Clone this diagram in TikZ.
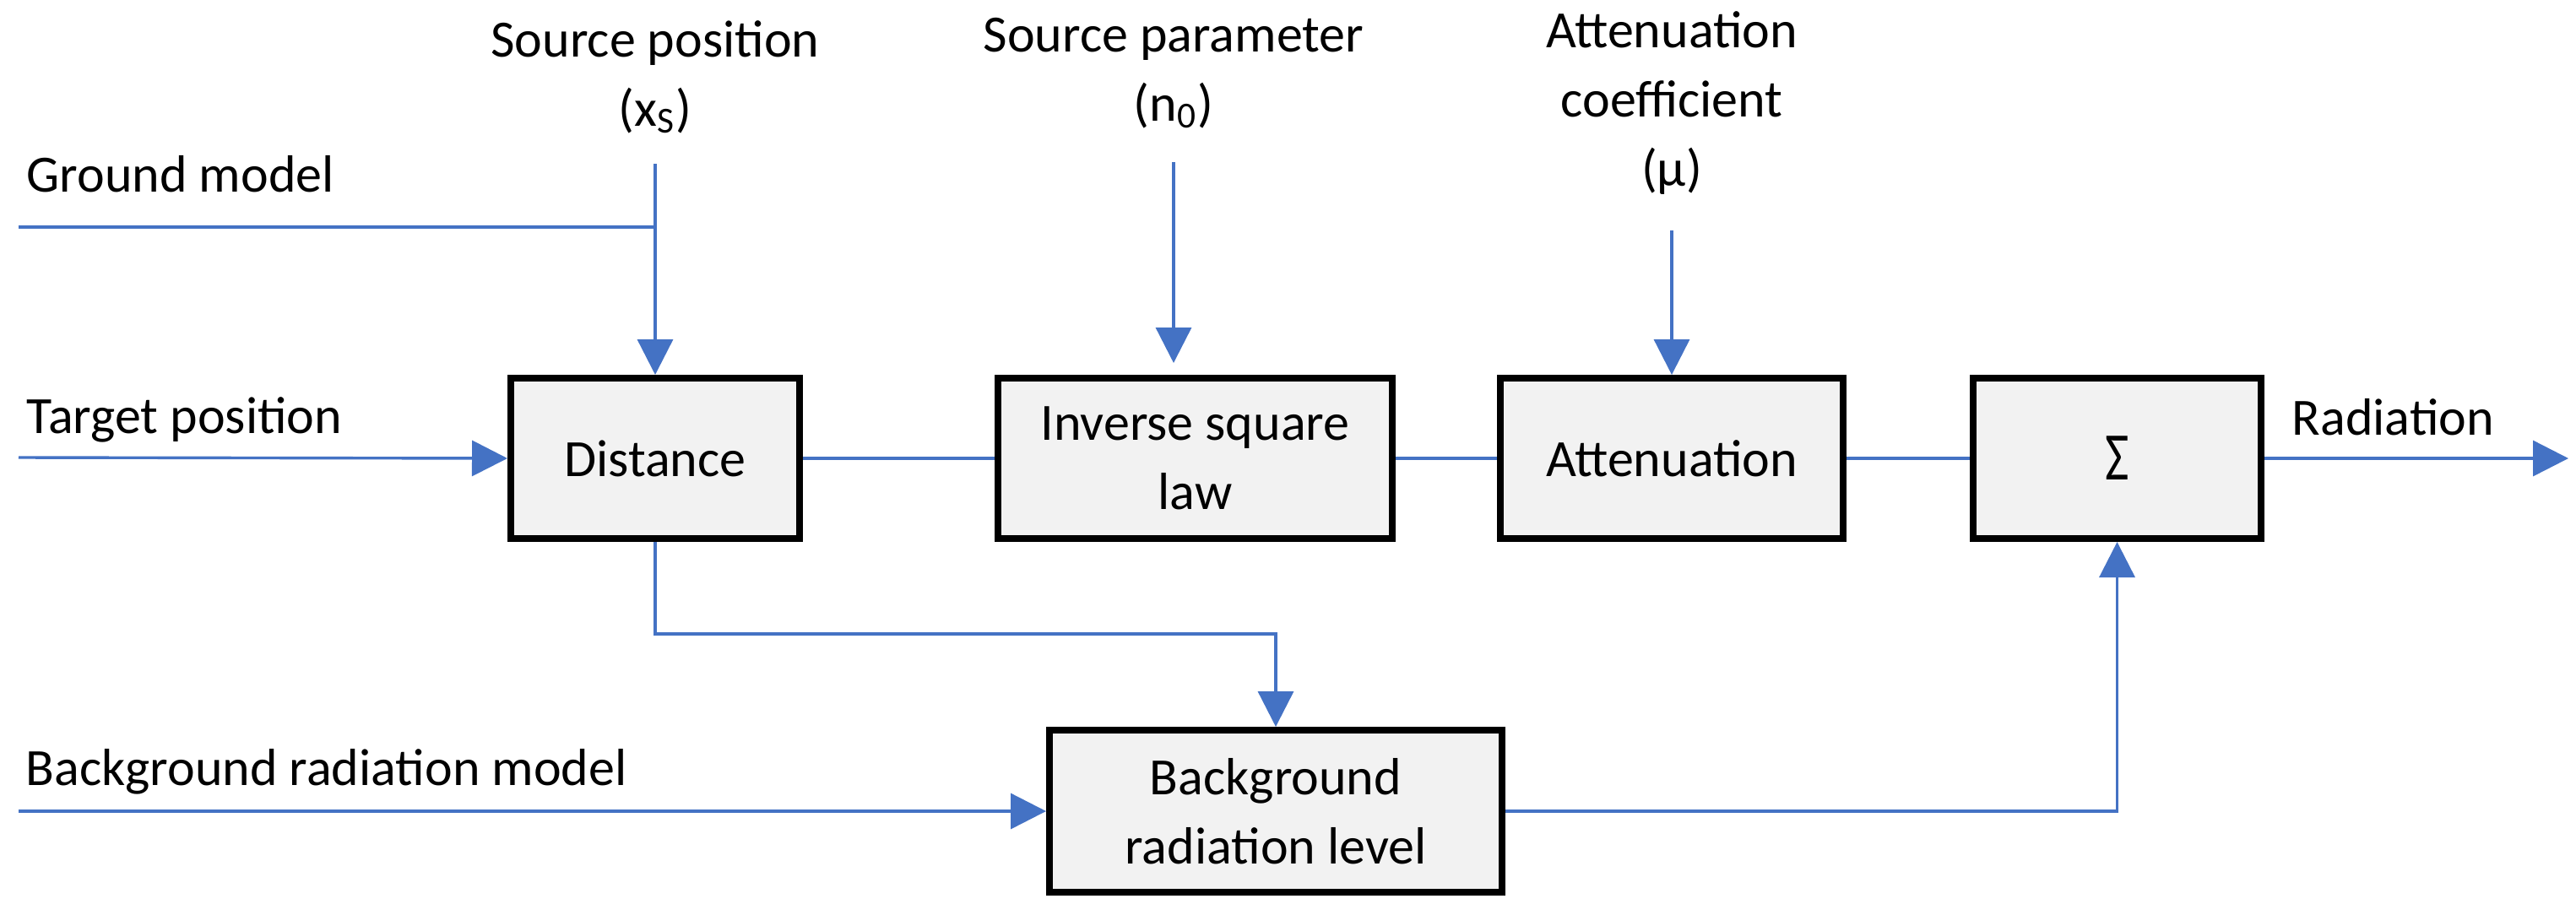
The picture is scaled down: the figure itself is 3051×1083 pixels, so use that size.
\documentclass[tikz,border=0pt]{standalone}
\usepackage{fontspec}
\setmainfont{Carlito}
\usetikzlibrary{arrows.meta}
\definecolor{lineblue}{HTML}{4472C4}
\definecolor{boxfill}{HTML}{F2F2F2}
\newcommand\lblfont{\fontsize{15.5pt}{20.5pt}\selectfont}
\begin{document}
\begin{tikzpicture}[x=0.25pt,y=-0.25pt,
  blk/.style={draw=black, line width=2pt, fill=boxfill, inner sep=0pt, align=center, font=\lblfont, minimum height=47.5pt},
  wire/.style={draw=lineblue, line width=0.85pt},
  arr/.style={wire, -{Triangle[length=10.5pt,width=10.5pt]}},
  lbl/.style={inner sep=0pt, font=\lblfont, align=center}
]
\useasboundingbox (0,0) rectangle (3051,1083);

% blocks
\node[blk, minimum width=85.5pt] (dist) at (776,543) {Distance};
\node[blk, minimum width=116.75pt] (inv) at (1415.5,543) {Inverse square\\law};
\node[blk, minimum width=101.5pt] (att) at (1980,543) {Attenuation};
\node[blk, minimum width=85.25pt] (sum) at (2507.5,543) {\raisebox{-1pt}{\scalebox{1}[1.3]{Σ}}};
\node[blk, minimum width=134pt, minimum height=48pt] (bg) at (1511,961) {Background\\radiation level};

% labels (anchor = baseline of last line)
\node[lbl, anchor=base] (srcpos) at (776,149) {Source position\\(x\textsubscript{S})};
\node[lbl, anchor=base] (srcpar) at (1390,143) {Source parameter\\(n\textsubscript{0})};
\node[lbl, anchor=base] (attco) at (1980,220) {Attenuation\\coefficient\\(μ)};
\node[lbl, anchor=base west] (gm) at (31,227) {Ground model};
\node[lbl, anchor=base west] (tp) at (31,513) {Target position};
\node[lbl, anchor=base west] (brm) at (30,930) {Background radiation model};
\node[lbl, anchor=base west] (radl) at (2714,515) {Radiation};

% connector end points
\coordinate (gm0) at (22,269);
\coordinate (gm1) at (776,269);
\coordinate (sp0) at (776,194);
\coordinate (tp0) at (22,542);
\coordinate (sq0) at (1390,192);
\coordinate (sq1) at (1390,430);
\coordinate (ac0) at (1980,273);
\coordinate (rad) at (3042,543);
\coordinate (dj) at (776,751);
\coordinate (bm0) at (22,961);

% connectors
\draw[wire] (gm0) -- (gm1);
\draw[arr] (sp0) -- (dist.north);
\draw[arr] (tp0) -- (dist.west);
\draw[wire] (dist.east) -- (inv.west);
\draw[arr] (sq0) -- (sq1);
\draw[arr] (ac0) -- (att.north);
\draw[wire] (inv.east) -- (att.west);
\draw[wire] (att.east) -- (sum.west);
\draw[arr] (sum.east) -- (rad);
\draw[arr] (dist.south) -- (dj) -| (bg.north);
\draw[arr] (bm0) -- (bg.west);
\draw[arr] (bg.east) -| (sum.south);
\end{tikzpicture}
\end{document}
